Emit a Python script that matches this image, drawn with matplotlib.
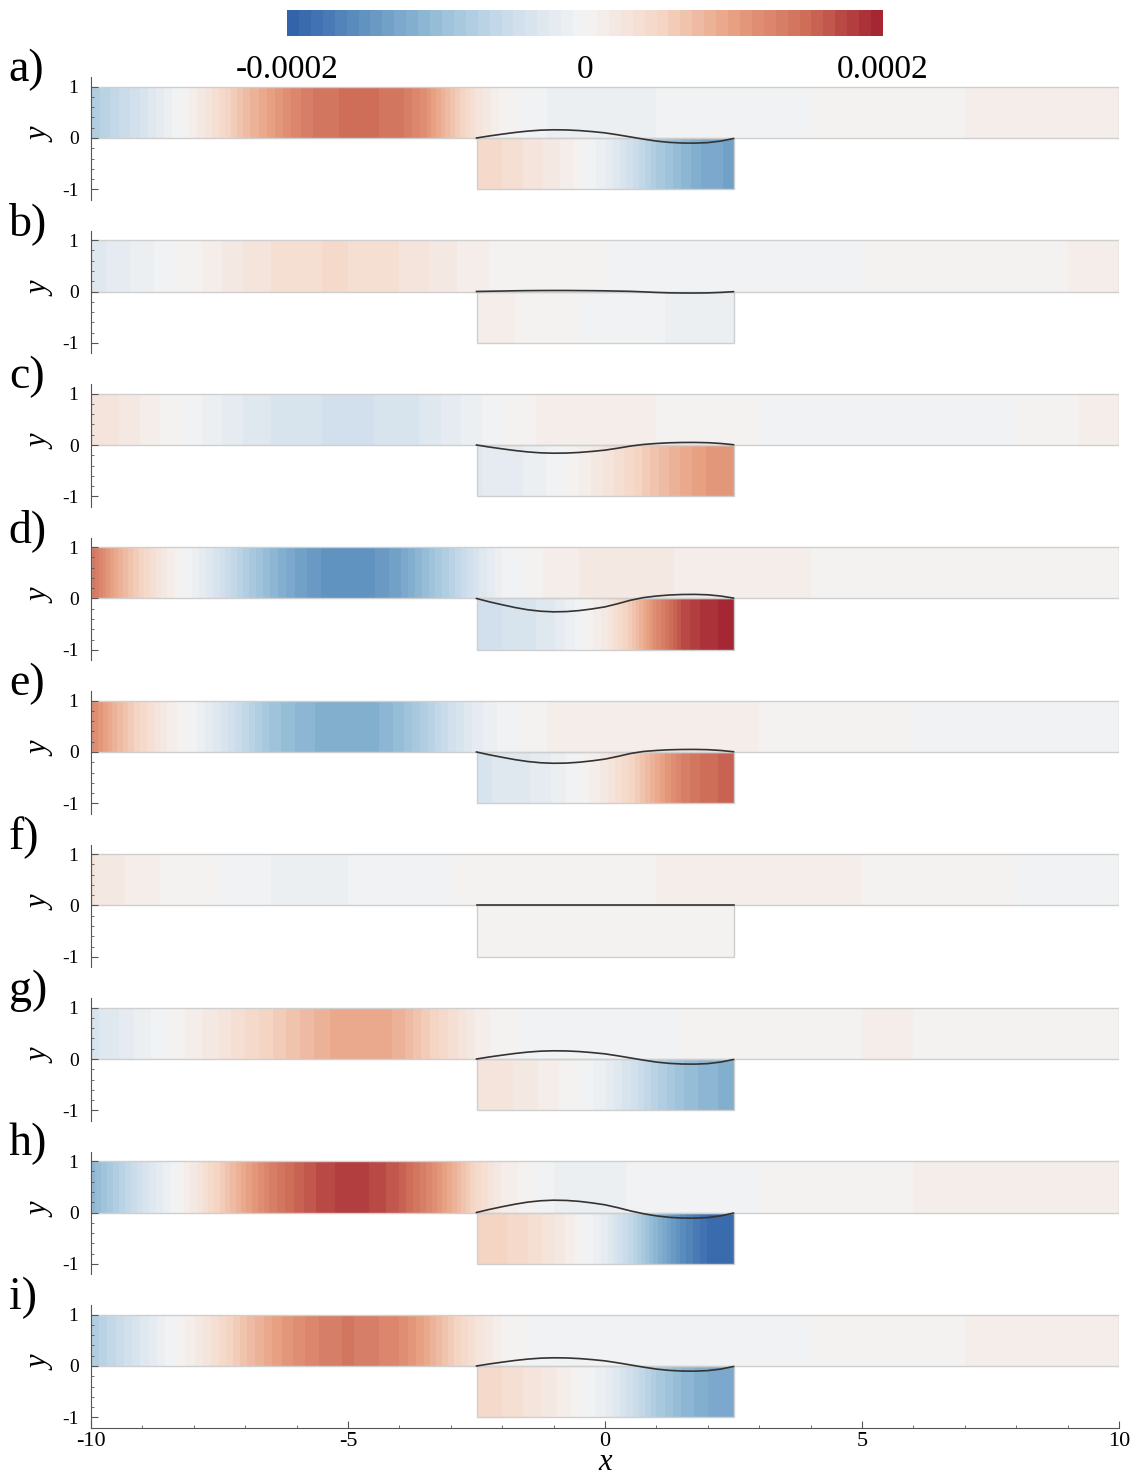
import numpy as np
import matplotlib
matplotlib.use("Agg")
import matplotlib.pyplot as plt
from matplotlib.colors import LinearSegmentedColormap
from matplotlib.patches import Rectangle
from matplotlib.ticker import FixedLocator

plt.rcParams['font.family'] = ['Liberation Serif', 'DejaVu Serif']
plt.rcParams['axes.unicode_minus'] = False

# field values are in units of 1e-4
SCALE = 1e-4
PANEL_LABELS = ['a)', 'b)', 'c)', 'd)', 'e)', 'f)', 'g)', 'h)', 'i)']

X_CHANNEL = [-10, -9.5, -9, -8.5, -8, -7.5, -7, -6.5, -6, -5.5, -5, -4.5, -4, -3.5,
             -3, -2.5, -2, -1, 0, 1, 2, 3, 4, 5, 6, 7, 8, 9, 10]
X_CAVITY = [-2.5, -2, -1.5, -1, -0.5, 0, 0.5, 1, 1.5, 2, 2.5]
X_INTERFACE = [-2.5, -2.25, -2, -1.75, -1.5, -1.25, -1, -0.75, -0.5, -0.25, 0,
               0.25, 0.5, 0.75, 1, 1.25, 1.5, 1.75, 2, 2.25, 2.5]

channel_a = [-0.8, -0.58, -0.38, -0.12, 0.12, 0.4, 0.75, 1.0, 1.25, 1.42, 1.45, 1.45, 1.4, 1.15,
             0.7, 0.3, 0.05, -0.1, -0.1, -0.08, -0.05, -0.02, 0.0, 0.02, 0.06, 0.08, 0.12, 0.12, 0.12]
channel_b = [-0.3, -0.2, -0.12, -0.03, 0.05, 0.15, 0.25, 0.32, 0.38, 0.4, 0.4, 0.38, 0.32, 0.25,
             0.18, 0.1, 0.06, 0.03, 0.0, -0.03, -0.03, -0.02, -0.02, 0.0, 0.02, 0.04, 0.06, 0.08, 0.1]
channel_c = [0.3, 0.25, 0.15, 0.05, -0.05, -0.15, -0.25, -0.32, -0.38, -0.4, -0.42, -0.4, -0.38, -0.3,
             -0.2, -0.1, 0.0, 0.12, 0.15, 0.08, 0.03, 0.0, -0.01, -0.02, -0.02, -0.01, 0.0, 0.06, 0.15]
channel_d = [1.45, 0.9, 0.5, 0.15, -0.1, -0.4, -0.75, -1.05, -1.3, -1.45, -1.5, -1.45, -1.3, -1.0,
             -0.7, -0.35, -0.08, 0.12, 0.2, 0.18, 0.12, 0.1, 0.08, 0.05, 0.03, 0.02, 0.02, 0.02, 0.02]
channel_e = [1.25, 0.8, 0.45, 0.15, -0.05, -0.3, -0.6, -0.9, -1.05, -1.15, -1.2, -1.15, -1.0, -0.75,
             -0.45, -0.2, -0.05, 0.1, 0.15, 0.12, 0.1, 0.08, 0.05, 0.02, 0.0, -0.01, -0.02, -0.03, -0.02]
channel_f = [0.25, 0.18, 0.12, 0.06, 0.02, 0.0, -0.05, -0.08, -0.1, -0.1, -0.08, -0.05, -0.03, -0.01,
             0.0, 0.01, 0.03, 0.05, 0.06, 0.08, 0.1, 0.1, 0.1, 0.08, 0.05, 0.03, 0.0, -0.01, -0.01]
channel_g = [-0.35, -0.25, -0.12, 0.0, 0.12, 0.25, 0.4, 0.55, 0.7, 0.85, 0.95, 0.95, 0.85, 0.6,
             0.38, 0.15, 0.02, -0.05, -0.05, -0.02, 0.02, 0.05, 0.07, 0.08, 0.08, 0.07, 0.06, 0.03, 0.01]
channel_h = [-1.1, -0.75, -0.4, -0.1, 0.2, 0.55, 0.95, 1.3, 1.55, 1.72, 1.8, 1.75, 1.6, 1.3,
             0.9, 0.45, 0.15, -0.08, -0.1, -0.05, -0.02, 0.0, 0.03, 0.05, 0.08, 0.1, 0.1, 0.1, 0.08]
channel_i = [-0.8, -0.55, -0.3, -0.05, 0.15, 0.4, 0.7, 0.95, 1.15, 1.3, 1.38, 1.3, 1.2, 0.95,
             0.6, 0.3, 0.08, -0.08, -0.08, -0.06, -0.04, -0.02, 0.0, 0.02, 0.05, 0.08, 0.1, 0.1, 0.1]

cavity_a = [0.45, 0.4, 0.3, 0.2, 0.05, -0.15, -0.45, -0.8, -1.05, -1.25, -1.3]
cavity_b = [0.12, 0.1, 0.06, 0.03, 0.0, -0.02, -0.04, -0.07, -0.1, -0.12, -0.13]
cavity_c = [-0.25, -0.2, -0.15, -0.05, 0.08, 0.25, 0.45, 0.7, 0.9, 1.05, 1.1]
cavity_d = [-0.45, -0.4, -0.35, -0.25, -0.05, 0.2, 0.6, 1.2, 1.7, 1.9, 1.95]
cavity_e = [-0.35, -0.3, -0.25, -0.15, 0.0, 0.2, 0.5, 0.9, 1.3, 1.5, 1.55]
cavity_f = [0.01, 0.01, 0.01, 0.01, 0.02, 0.03, 0.04, 0.05, 0.05, 0.05, 0.05]
cavity_g = [0.3, 0.27, 0.2, 0.1, 0.0, -0.15, -0.4, -0.7, -0.95, -1.1, -1.15]
cavity_h = [0.55, 0.5, 0.4, 0.25, 0.05, -0.2, -0.6, -1.1, -1.55, -1.85, -1.9]
cavity_i = [0.45, 0.4, 0.3, 0.18, 0.03, -0.15, -0.45, -0.8, -1.05, -1.2, -1.25]

interface_a = [0, 0.04, 0.075, 0.108, 0.135, 0.153, 0.16, 0.157, 0.145, 0.125, 0.10,
               0.062, 0.02, -0.022, -0.06, -0.085, -0.098, -0.1, -0.09, -0.06, -0.01]
interface_b = [0, 0.005, 0.009, 0.014, 0.017, 0.019, 0.02, 0.02, 0.018, 0.016, 0.013,
               0.008, 0.003, -0.007, -0.018, -0.026, -0.029, -0.03, -0.027, -0.018, -0.003]
interface_c = [0, -0.04, -0.075, -0.108, -0.135, -0.153, -0.16, -0.157, -0.145, -0.125, -0.10,
               -0.062, -0.02, 0.011, 0.03, 0.043, 0.049, 0.05, 0.045, 0.03, 0.005]
interface_d = [0, -0.065, -0.122, -0.176, -0.22, -0.248, -0.26, -0.255, -0.235, -0.203, -0.163,
               -0.101, -0.033, 0.018, 0.048, 0.068, 0.078, 0.08, 0.072, 0.048, 0.008]
interface_e = [0, -0.055, -0.103, -0.149, -0.186, -0.21, -0.22, -0.216, -0.199, -0.172, -0.138,
               -0.086, -0.028, 0.011, 0.03, 0.043, 0.049, 0.05, 0.045, 0.03, 0.005]
interface_f = [0, 0, 0, 0, 0, 0, 0, 0, 0, 0, 0,
               0, 0, 0, 0, 0, 0, 0, 0, 0, 0]
interface_g = [0, 0.04, 0.075, 0.108, 0.135, 0.153, 0.16, 0.157, 0.145, 0.125, 0.10,
               0.062, 0.02, -0.022, -0.06, -0.085, -0.098, -0.1, -0.09, -0.06, -0.01]
interface_h = [0, 0.06, 0.113, 0.162, 0.203, 0.229, 0.24, 0.235, 0.217, 0.187, 0.15,
               0.094, 0.03, -0.024, -0.066, -0.094, -0.108, -0.11, -0.099, -0.066, -0.011]
interface_i = [0, 0.04, 0.075, 0.108, 0.135, 0.153, 0.16, 0.157, 0.145, 0.125, 0.10,
               0.062, 0.02, -0.022, -0.06, -0.085, -0.098, -0.1, -0.09, -0.06, -0.01]

channels = [channel_a, channel_b, channel_c, channel_d, channel_e, channel_f, channel_g, channel_h, channel_i]
cavities = [cavity_a, cavity_b, cavity_c, cavity_d, cavity_e, cavity_f, cavity_g, cavity_h, cavity_i]
interfaces = [interface_a, interface_b, interface_c, interface_d, interface_e, interface_f,
              interface_g, interface_h, interface_i]

cmap_colors = [(48, 96, 168), (95, 145, 192), (150, 190, 215), (205, 222, 235), (244, 244, 244),
               (245, 215, 198), (232, 160, 130), (205, 108, 88), (162, 34, 48)]
cmap = LinearSegmentedColormap.from_list('tec', [tuple(c / 255 for c in rgb) for rgb in cmap_colors])
levels = np.linspace(-2e-4, 2e-4, 51)

W, H = 1140, 1475
fig = plt.figure(figsize=(W / 100, H / 100), dpi=100)

unit = 51.3
left = 91 / W
width = 1028 / W
ax_h = 2.38 * unit / H
spine_c = '#555555'

cf = None
for k in range(9):
    y0 = 138 + 153.5 * k
    bottom = 1 - (y0 + 1.2 * unit) / H
    ax = fig.add_axes([left, bottom, width, ax_h])
    ax.set_xlim(-10, 10)
    ax.set_ylim(-1.2, 1.18)

    zc = np.array(channels[k]) * SCALE
    cf = ax.contourf(X_CHANNEL, [0, 1], np.vstack([zc, zc]), levels=levels, cmap=cmap)
    zv = np.array(cavities[k]) * SCALE
    ax.contourf(X_CAVITY, [-1, 0], np.vstack([zv, zv]), levels=levels, cmap=cmap)

    ax.add_patch(Rectangle((-10, 0), 20, 1, fill=False, ec='#cfcfcf', lw=1))
    ax.add_patch(Rectangle((-2.5, -1), 5, 1, fill=False, ec='#cfcfcf', lw=1))
    ax.plot(X_INTERFACE, interfaces[k], color='#333333', lw=1.2)

    ax.spines['top'].set_visible(False)
    ax.spines['right'].set_visible(False)
    ax.spines['left'].set_color(spine_c)
    ax.spines['bottom'].set_color(spine_c)
    ax.set_yticks([-1, 0, 1])
    ax.yaxis.set_minor_locator(FixedLocator(np.arange(-1, 1.01, 0.2)))
    ax.tick_params(axis='y', which='major', direction='in', length=5, labelsize=14,
                   color=spine_c, pad=9)
    ax.tick_params(axis='y', which='minor', direction='in', length=2.5, color=spine_c)

    if k < 8:
        ax.spines['bottom'].set_visible(False)
        ax.set_xticks([])
    else:
        ax.set_xticks([-10, -5, 0, 5, 10])
        ax.xaxis.set_minor_locator(FixedLocator(np.arange(-10, 10.01, 1)))
        ax.tick_params(axis='x', which='major', direction='in', length=5, labelsize=16,
                       color=spine_c, pad=3)
        ax.tick_params(axis='x', which='minor', direction='in', length=2.5, color=spine_c)
        ax.set_xlabel('x', fontsize=22, style='italic', labelpad=-2)

    ax.text(-10.98, 0.05, 'y', fontsize=22, style='italic', rotation=90,
            ha='center', va='center', clip_on=False)
    ax.text(-11.6, 1.33, PANEL_LABELS[k], fontsize=33, ha='left', va='center',
            clip_on=False)

cax = fig.add_axes([287 / W, 1 - 36 / H, 596 / W, 26 / H])
cb = fig.colorbar(cf, cax=cax, orientation='horizontal', ticks=[-2e-4, 0, 2e-4])
cb.outline.set_visible(False)
cb.ax.set_xticklabels(['-0.0002', '0', '0.0002'])
cb.ax.tick_params(length=0, labelsize=24, pad=13)

fig.savefig('out.png', dpi=100)
